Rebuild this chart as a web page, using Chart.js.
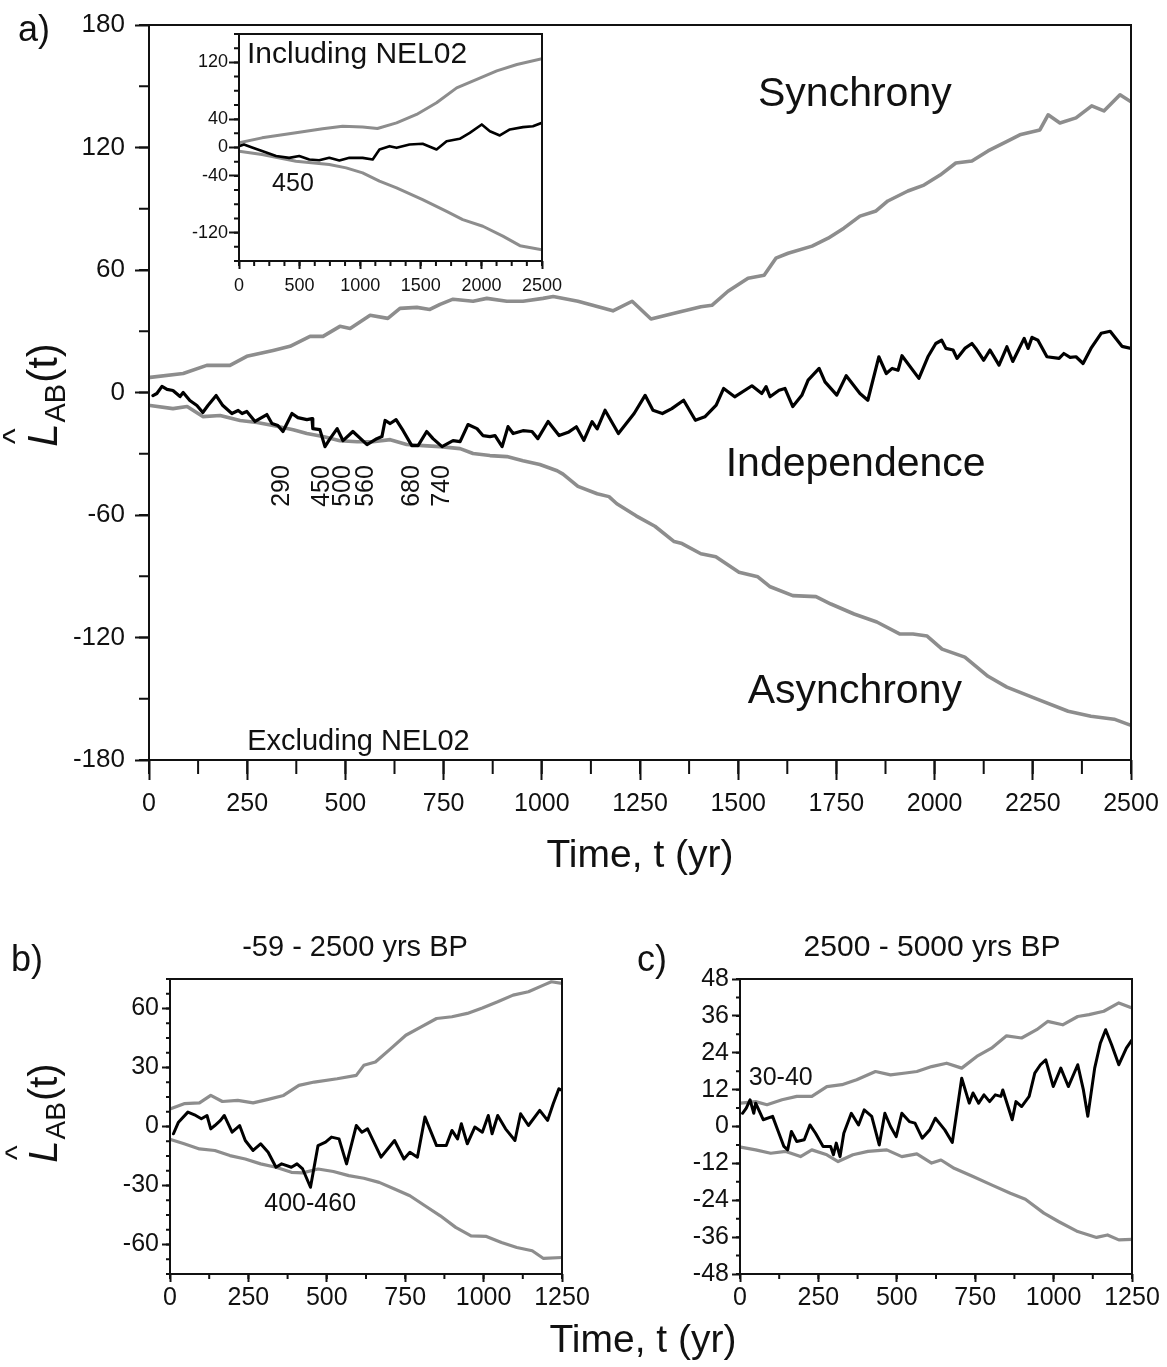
<!DOCTYPE html>
<html>
<head>
<meta charset="utf-8">
<title>L_AB(t) cross-correlation envelopes</title>
<script src="https://cdn.jsdelivr.net/npm/chart.js@4.4.1/dist/chart.umd.min.js"></script>
<style>
  body { margin: 0; background: #fff; width: 1167px; height: 1367px; position: relative; overflow: hidden;
         font-family: "Liberation Sans", Arial, sans-serif; color: #111; }
  canvas { position: absolute; display: block; }
  .tag { position: absolute; font-size: 36px; line-height: 36px; white-space: nowrap; }
  .xtitle { position: absolute; font-size: 39px; line-height: 39px; text-align: center; white-space: nowrap; }
</style>
</head>
<body>
<canvas id="chartMain" width="1167" height="900" style="left:0;top:0"></canvas>
<canvas id="chartInset" width="420" height="275" style="left:160px;top:25px"></canvas>
<canvas id="chartB" width="620" height="400" style="left:0;top:930px"></canvas>
<canvas id="chartC" width="567" height="400" style="left:600px;top:930px"></canvas>

<div class="tag" style="left:18px;top:11px">a)</div>
<div class="tag" style="left:11px;top:941px">b)</div>
<div class="tag" style="left:637px;top:941px">c)</div>
<div class="xtitle" style="left:443px;width:400px;top:1319px">Time, t (yr)</div>

<script>
/* ---- panel a: 2500 yr, excluding NEL02 ---- */
const mainXTicks = [0, 250, 500, 750, 1000, 1250, 1500, 1750, 2000, 2250, 2500];
const mainYTicks = [-180, -120, -60, 0, 60, 120, 180];

// upper envelope (synchrony)
const mainSync = [[3,7.4],[87,9.3],[147,13.3],[206,13.3],[249,17.7],[316,20.6],[359,22.6],[410,27.5],[443,27.5],
  [486,32.4],[512,31.4],[563,37.8],[608,36.3],[639,41.2],[682,41.7],[715,40.7],[741,43.2],[774,45.7],[825,44.7],
  [860,46.1],[911,44.7],[952,44.7],[1003,46.1],[1029,47],[1092,44.7],[1181,40],[1230,44.7],[1278,36],[1337,38.8],
  [1405,42],[1433,42.7],[1474,49.6],[1525,56],[1566,57.4],[1596,65.8],[1627,68.2],[1688,71.7],[1729,75.6],
  [1769,80.5],[1810,86.4],[1851,88.9],[1881,93.8],[1932,98.7],[1973,101.6],[2014,106.5],[2054,112.4],[2095,113.4],
  [2136,118.3],[2187,123.2],[2217,126.2],[2268,128.6],[2289,136],[2319,132],[2360,134.5],[2400,140.4],[2431,137.9],
  [2472,145.8],[2500,142.4]];

// lower envelope (asynchrony)
const mainAsync = [[3,-6.4],[61,-7.9],[97,-6.9],[137,-11.8],[181,-11.3],[232,-13.7],[275,-14.7],[316,-16.2],
  [367,-18.2],[402,-20.1],[443,-21.6],[486,-23.6],[530,-24.1],[570,-24.1],[614,-23.1],[656,-25.5],[698,-26],
  [741,-26.5],[792,-27.5],[825,-29.9],[868,-30.9],[911,-31.4],[952,-33.4],[995,-35.3],[1039,-38.3],[1054,-40],
  [1092,-46],[1141,-49.6],[1171,-51],[1191,-54.5],[1240,-60.4],[1288,-65.5],[1337,-73],[1357,-74],[1405,-79],
  [1443,-80.5],[1502,-88],[1550,-90.3],[1580,-95],[1639,-99.5],[1698,-100],[1736,-103.6],[1795,-108.5],
  [1853,-112.4],[1912,-118.3],[1945,-118.3],[1981,-119.3],[2019,-125.7],[2077,-129.6],[2136,-139],[2184,-144.3],
  [2261,-150.2],[2340,-156.1],[2398,-158.6],[2457,-160],[2500,-163]];

// observed L_AB(t)
const mainObs = [[10,-1.5],[20,-0.5],[33,3],[46,1.5],[61,1],[79,-2],[87,0],[104,-3.9],[122,-6.4],[137,-9.8],
  [150,-6.4],[171,-1.5],[188,-6.4],[211,-10.3],[227,-8.8],[237,-10.3],[249,-9.3],[270,-14.2],[300,-10.8],
  [313,-15.2],[328,-16.2],[341,-19.1],[364,-10.3],[379,-12.3],[402,-13.3],[415,-12.8],[417,-17.7],[435,-18.2],
  [448,-26.5],[461,-22.6],[479,-17.7],[494,-23.6],[519,-19.1],[555,-25.5],[580,-22.6],[593,-21.6],[601,-13.7],
  [614,-15.2],[629,-13.3],[647,-18.7],[669,-26],[685,-26],[707,-19.1],[723,-22.6],[746,-26.5],[774,-23.6],
  [792,-24.1],[812,-15.7],[835,-17.7],[850,-21.1],[868,-21.6],[881,-21.1],[899,-26.5],[914,-16.7],[927,-20.1],
  [952,-18.7],[975,-19.1],[990,-22.6],[1016,-14.2],[1044,-21.1],[1069,-19.3],[1088,-16.8],[1107,-23.4],
  [1128,-14.3],[1141,-17.8],[1161,-8.7],[1195,-20.1],[1235,-10.3],[1263,-1.4],[1283,-8.7],[1307,-10.3],
  [1331,-7.9],[1361,-3.8],[1391,-13.6],[1415,-11.9],[1444,-6.2],[1463,2],[1491,-2.1],[1535,3.3],[1560,-0.5],
  [1571,2.9],[1581,-2.1],[1604,1.1],[1619,2],[1639,-6.9],[1662,-1.4],[1678,6.1],[1706,11.8],[1721,5.2],
  [1751,-1.3],[1775,8.2],[1810,-0.5],[1830,-3.8],[1858,17.5],[1877,9.3],[1892,11.8],[1907,10.9],[1917,18],
  [1960,6.9],[1983,17.5],[2003,24],[2018,25.6],[2029,21.6],[2047,20.8],[2057,16.7],[2077,21.6],[2095,24],
  [2105,21.6],[2125,15.8],[2141,20.8],[2164,13.4],[2184,22.4],[2199,15.2],[2228,26.5],[2238,21.6],[2248,27],
  [2263,25.6],[2286,17.5],[2317,16.7],[2329,19.1],[2345,17.2],[2360,17.5],[2378,14.2],[2398,21.6],[2424,29],
  [2447,30],[2477,22.6],[2500,21.6]];

// years marked under the dips
const mainDipYears = ['290', '450', '500', '560', '680', '740'];
const mainDipAt = [339, 441, 494, 552, 670, 746];

/* ---- inset: including NEL02 ---- */
const insetXTicks = [0, 500, 1000, 1500, 2000, 2500];
const insetYTicks = [-120, -40, 0, 40, 120];
const insetSync = [[0,6.6],[190,13.6],[470,20.7],[690,26.3],[855,30],[1020,29],[1142,26.8],[1300,34.8],
  [1465,46.6],[1630,63],[1796,84],[1962,96],[2127,108],[2293,117],[2500,125]];
const insetAsync = [[0,-5.2],[190,-10],[470,-19.3],[745,-24],[884,-28.7],[1020,-35.8],[1159,-47.5],[1300,-56.9],
  [1515,-73.4],[1713,-90],[1846,-101.6],[2012,-111],[2177,-125],[2318,-138.4],[2500,-144]];
const insetObs = [[0,1.9],[41,4.2],[108,0],[190,-5],[306,-12],[414,-14.6],[497,-12],[580,-17],[662,-18],
  [745,-14.6],[828,-18.4],[911,-14.6],[1020,-14.6],[1103,-17],[1159,-2.8],[1242,1.9],[1300,-0.5],[1407,4.2],
  [1515,5.2],[1630,-2.8],[1713,8.9],[1821,12.3],[1904,20.7],[2003,32.5],[2070,23],[2152,17],[2235,25.4],
  [2343,28.7],[2425,30],[2500,34.8]];

/* ---- panel b: -59 - 2500 yrs BP ---- */
const halfXTicks = [0, 250, 500, 750, 1000, 1250];
const bYTicks = [-60, -30, 0, 30, 60];
const bSync = [[2,9],[45,11.6],[94,12],[130,15.8],[167,12.7],[216,13.3],[265,12],[313,13.8],[362,15.8],
  [411,20.9],[460,22.6],[533,24.3],[594,26],[618,31.1],[655,32.8],[704,39.6],[752,46.4],[801,50.7],[850,54.9],
  [899,55.8],[948,57.5],[996,60.3],[1045,63.4],[1094,66.8],[1143,68.5],[1191,71.9],[1216,73.6],[1250,72.8]];
const bAsync = [[2,-6.6],[45,-8.8],[94,-11.4],[143,-12.2],[191,-14.8],[240,-16.5],[289,-19],[338,-20.7],
  [387,-23.3],[423,-23.6],[472,-21.6],[521,-22.9],[570,-25],[618,-26.3],[667,-28.4],[716,-31.8],[765,-35.2],
  [813,-40.3],[862,-45.4],[911,-51.3],[960,-55.6],[1009,-55.9],[1057,-59],[1106,-61.5],[1155,-63.2],
  [1191,-67.1],[1250,-66.6]];
const bObs = [[11,-3.7],[27,2.2],[57,7.3],[82,5.6],[100,3.9],[118,5.6],[130,-1.2],[143,0.5],[161,3.1],[173,5.6],
  [198,-2.9],[222,0.5],[240,-7.1],[265,-12.2],[289,-8.8],[313,-13.1],[338,-20.7],[356,-19],[387,-20.7],
  [405,-19],[423,-21.6],[448,-30.9],[472,-9.7],[496,-8],[515,-5.4],[539,-6.3],[563,-19],[594,0.5],[612,-2.9],
  [630,-1.2],[673,-15.6],[716,-7.1],[746,-16.5],[765,-13.1],[789,-15.6],[813,4.8],[850,-9.7],[881,-9.7],
  [899,-2],[917,-6.3],[929,1.4],[948,-8.8],[972,-0.3],[996,-2.9],[1015,5.6],[1027,-3.7],[1045,5.6],[1070,-1.2],
  [1100,-7.1],[1118,6.5],[1143,0.5],[1179,8.2],[1204,3.1],[1222,11.6],[1240,19.2],[1250,18.4]];

/* ---- panel c: 2500 - 5000 yrs BP ---- */
const cYTicks = [-48, -36, -24, -12, 0, 12, 24, 36, 48];
const cSync = [[2,7.6],[50,8.1],[86,7.1],[134,8.7],[181,9.8],[229,9.8],[277,13],[325,13.6],[372,15.2],
  [432,17.9],[480,16.8],[528,17.4],[564,17.9],[611,19.5],[659,20.6],[707,19],[755,22.8],[802,25.5],[850,29.5],
  [898,28.8],[946,31.5],[981,34.2],[1029,33.1],[1077,35.8],[1113,36.4],[1160,37.5],[1208,40.2],[1250,38.6]];
const cAsync = [[2,-6.7],[50,-7.6],[98,-8.7],[146,-8.1],[193,-9.8],[229,-7.6],[277,-9.2],[313,-11.4],
  [360,-9.2],[408,-8.1],[468,-7.6],[516,-9.8],[564,-8.9],[611,-11.9],[641,-10.9],[683,-13.6],[743,-16.3],
  [802,-19],[862,-21.7],[910,-23.7],[969,-28.2],[1017,-31],[1077,-34.2],[1137,-36.1],[1172,-35.3],[1208,-36.9],
  [1250,-36.7]];
const cObs = [[8,4.3],[20,6],[32,8.7],[44,4.3],[50,7.6],[62,4.9],[74,2.2],[104,3.3],[122,-1.6],[140,-6.5],
  [152,-7.6],[164,-1.6],[181,-4.9],[205,-4.3],[223,0.5],[241,-2.2],[265,-6.5],[289,-6.5],[298,-9.2],[307,-5.4],
  [319,-9.8],[331,-2.2],[355,4.3],[378,0.5],[396,5.4],[420,3.3],[444,-6],[462,4.3],[480,0],[498,-3.3],[516,4.3],
  [540,1.6],[558,1.1],[581,-3.8],[605,-1.1],[623,2.7],[653,-1.1],[677,-5.2],[707,15.7],[731,7.6],[743,10.9],
  [761,7.6],[778,10.3],[796,8.1],[814,10.3],[832,9.8],[838,11.9],[868,2.2],[880,8.1],[898,6.5],[922,9.8],
  [940,17.4],[958,20.1],[975,21.7],[999,13],[1023,19],[1047,13],[1077,20.1],[1095,11.9],[1109,3.3],[1131,19],
  [1149,27.1],[1166,31.5],[1185,26.6],[1208,20.1],[1232,25.5],[1250,28.2]];

const INK = '#111';
const GRAY = '#8d8d8d';
const FAMILY = '"Liberation Sans", Arial, sans-serif';

Chart.defaults.font.family = FAMILY;
Chart.defaults.color = INK;

const pts = arr => arr.map(([x, y]) => ({ x, y }));

function line(data, color, width) {
    return {
        data: pts(data), borderColor: color, borderWidth: width,
        pointRadius: 0, tension: 0, fill: false,
        borderJoinStyle: 'round', borderCapStyle: 'round'
    };
}

// fixed axis box, no extra label overhang padding
function fixAxis(size) {
    return scale => {
        if (scale.isHorizontal()) scale.height = size; else scale.width = size;
        scale.paddingLeft = scale.paddingRight = scale.paddingTop = scale.paddingBottom = 0;
    };
}

function axis({ min, max, ticks, size, tickLen, pad, font, title }) {
    return {
        type: 'linear', min, max,
        afterBuildTicks: scale => { scale.ticks = ticks.map(value => ({ value })); },
        afterFit: fixAxis(size),
        grid: { display: true, drawOnChartArea: false, drawTicks: true, tickLength: tickLen, tickWidth: 2, tickColor: INK },
        border: { display: false },
        ticks: { font: { size: font }, padding: pad, color: INK, autoSkip: false, maxRotation: 0, callback: v => String(v) },
        title: title || { display: false }
    };
}

/* frame box, optional white fill, minor ticks */
function framePlugin(minor, fill) {
    return {
        id: 'frame',
        beforeDraw(chart) {
            if (!fill) return;
            const a = chart.chartArea, ctx = chart.ctx;
            ctx.save();
            ctx.fillStyle = fill;
            ctx.fillRect(a.left, a.top, a.right - a.left, a.bottom - a.top);
            ctx.restore();
        },
        afterDraw(chart) {
            const a = chart.chartArea, ctx = chart.ctx;
            ctx.save();
            ctx.strokeStyle = INK;
            ctx.lineWidth = 2;
            ctx.strokeRect(a.left, a.top, a.right - a.left, a.bottom - a.top);
            ctx.beginPath();
            minor.forEach(({ id, step, len }) => {
                const s = chart.scales[id];
                const n = Math.round((s.max - s.min) / step);
                for (let i = 0; i <= n; i++) {
                    const p = s.getPixelForValue(s.min + i * step);
                    if (s.isHorizontal()) { ctx.moveTo(p, a.bottom); ctx.lineTo(p, a.bottom + len); }
                    else { ctx.moveTo(a.left - len, p); ctx.lineTo(a.left, p); }
                }
            });
            ctx.stroke();
            ctx.restore();
        }
    };
}

/* text notes: {t, v} in data units or {x, y} in canvas pixels */
function notesPlugin(items) {
    return {
        id: 'notes',
        afterDatasetsDraw(chart) {
            const { ctx, scales } = chart;
            items.forEach(n => {
                const px = n.t !== undefined ? scales.x.getPixelForValue(n.t) : n.x;
                const py = n.v !== undefined ? scales.y.getPixelForValue(n.v) : n.y;
                ctx.save();
                ctx.font = `${n.size}px ${FAMILY}`;
                ctx.fillStyle = INK;
                ctx.textAlign = n.align || 'center';
                ctx.textBaseline = 'middle';
                ctx.translate(px, py);
                if (n.rotate) ctx.rotate(n.rotate * Math.PI / 180);
                ctx.fillText(n.text, 0, 0);
                ctx.restore();
            });
        }
    };
}

/* rotated y title: L-hat with AB subscript, then (t) */
function yLabelPlugin(cx, cy, size, sub) {
    return {
        id: 'ylabel',
        afterDraw(chart) {
            const ctx = chart.ctx;
            const fL = `italic ${size}px ${FAMILY}`, fS = `${sub}px ${FAMILY}`, fN = `${size}px ${FAMILY}`;
            ctx.save();
            ctx.translate(cx, cy);
            ctx.rotate(-Math.PI / 2);
            ctx.fillStyle = INK;
            ctx.textBaseline = 'alphabetic';
            ctx.font = fL; const wL = ctx.measureText('L').width;
            ctx.font = fS; const wS = ctx.measureText('AB').width;
            ctx.font = fN; const wT = ctx.measureText('(t)').width;
            let u = -(wL + wS + wT + 2) / 2;
            ctx.textAlign = 'left';
            ctx.font = fL; ctx.fillText('L', u, 0);
            ctx.textAlign = 'center';
            ctx.font = `${Math.round(size * 0.8)}px ${FAMILY}`;
            ctx.fillText('^', u + wL * 0.45, -size * 0.75);
            ctx.textAlign = 'left';
            u += wL + 1;
            ctx.font = fS; ctx.fillText('AB', u, size * 0.2);
            u += wS + 1;
            ctx.font = fN; ctx.fillText('(t)', u, 0);
            ctx.restore();
        }
    };
}

function makeChart(id, cfg) {
    return new Chart(document.getElementById(id), {
        type: 'line',
        data: { datasets: cfg.datasets },
        options: {
            responsive: false, animation: false, events: [],
            layout: { padding: cfg.padding },
            plugins: { legend: { display: false }, tooltip: { enabled: false } },
            scales: { x: cfg.x, y: cfg.y }
        },
        plugins: cfg.plugins
    });
}

/* ── panel a ─────────────────────────────── */
makeChart('chartMain', {
    padding: { top: 25, right: 36, left: 0, bottom: 0 },
    datasets: [line(mainObs, '#000', 3.2), line(mainSync, GRAY, 3.6), line(mainAsync, GRAY, 3.6)],
    x: axis({ min: 0, max: 2500, ticks: mainXTicks, size: 140, tickLen: 20, pad: 9, font: 25,
        title: { display: true, text: 'Time, t (yr)', font: { size: 39 }, color: INK, padding: { top: 0, bottom: 20 } } }),
    y: axis({ min: -180, max: 180, ticks: mainYTicks, size: 149, tickLen: 14, pad: 10, font: 26 }),
    plugins: [
        framePlugin([{ id: 'x', step: 125, len: 14 }, { id: 'y', step: 30, len: 10 }]),
        notesPlugin([
            { text: 'Synchrony', t: 1797, v: 146, size: 41 },
            { text: 'Independence', t: 1799, v: -35.3, size: 41 },
            { text: 'Asynchrony', t: 1797, v: -146.4, size: 41 },
            { text: 'Excluding NEL02', t: 250, v: -171.4, size: 29, align: 'left' },
            ...mainDipYears.map((s, i) => ({ text: s, t: mainDipAt[i], v: -45.8, size: 25, rotate: -90 }))
        ]),
        yLabelPlugin(57, 395, 42, 29)
    ]
});

/* ── inset ───────────────────────────────── */
makeChart('chartInset', {
    padding: { top: 9, right: 38, left: 0, bottom: 0 },
    datasets: [line(insetObs, '#000', 2.6), line(insetSync, GRAY, 3), line(insetAsync, GRAY, 3)],
    x: axis({ min: 0, max: 2500, ticks: insetXTicks, size: 39, tickLen: 8, pad: 6, font: 18 }),
    y: axis({ min: -160, max: 160, ticks: insetYTicks, size: 79, tickLen: 10, pad: 1, font: 18 }),
    plugins: [
        framePlugin([{ id: 'x', step: 125, len: 5 }, { id: 'y', step: 20, len: 5 }], '#fff'),
        notesPlugin([
            { text: 'Including NEL02', t: 66, v: 130.4, size: 30, align: 'left' },
            { text: '450', t: 445, v: -51, size: 25 }
        ])
    ]
});

/* ── panel b ─────────────────────────────── */
makeChart('chartB', {
    padding: { top: 49, right: 58, left: 0, bottom: 0 },
    datasets: [line(bObs, '#000', 3), line(bSync, GRAY, 3.2), line(bAsync, GRAY, 3.2)],
    x: axis({ min: 0, max: 1250, ticks: halfXTicks, size: 56, tickLen: 8, pad: 1, font: 25 }),
    y: axis({ min: -75, max: 75, ticks: bYTicks, size: 170, tickLen: 8, pad: 3, font: 25 }),
    plugins: [
        framePlugin([{ id: 'x', step: 125, len: 5 }, { id: 'y', step: 7.5, len: 4 }]),
        notesPlugin([
            { text: '-59 - 2500 yrs BP', x: 355, y: 18, size: 29 },
            { text: '400-460', t: 447, v: -39.7, size: 25 }
        ]),
        yLabelPlugin(57, 183, 40, 28)
    ]
});

/* ── panel c ─────────────────────────────── */
makeChart('chartC', {
    padding: { top: 49, right: 35, left: 0, bottom: 0 },
    datasets: [line(cObs, '#000', 3), line(cSync, GRAY, 3.2), line(cAsync, GRAY, 3.2)],
    x: axis({ min: 0, max: 1250, ticks: halfXTicks, size: 56, tickLen: 8, pad: 1, font: 25 }),
    y: axis({ min: -48, max: 48, ticks: cYTicks, size: 140, tickLen: 8, pad: 3, font: 25 }),
    plugins: [
        framePlugin([{ id: 'x', step: 125, len: 5 }, { id: 'y', step: 6, len: 4 }]),
        notesPlugin([
            { text: '2500 - 5000 yrs BP', x: 332, y: 18, size: 30 },
            { text: '30-40', t: 130, v: 15.6, size: 25 }
        ])
    ]
});
</script>
</body>
</html>
